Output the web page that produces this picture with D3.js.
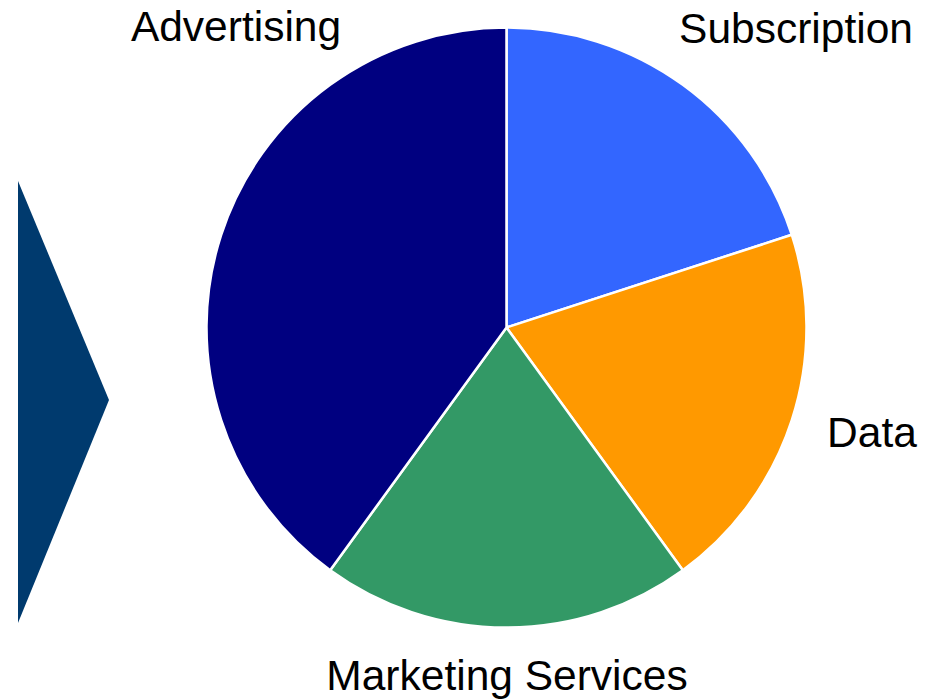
<!DOCTYPE html>
<html>
<head>
<meta charset="utf-8">
<script src="https://cdn.jsdelivr.net/npm/d3@7"></script>
<style>
  html, body { margin: 0; padding: 0; background: #fff; }
  svg { display: block; }
  text { font-family: "Liberation Sans", Arial, sans-serif; font-size: 42.5px; fill: #000; }
</style>
</head>
<body>
<svg id="chart" width="928" height="699"></svg>
<script>
// Revenue mix, clockwise from 12 o'clock
const categories = ["Subscription", "Data", "Marketing Services", "Advertising"];
const shares = [20, 20, 20, 40];
const colors = ["#3366FF", "#FF9900", "#339966", "#000080"];

const width = 928, height = 699;
const cx = 506.5, cy = 327.5, radius = 300;

const svg = d3.select("#chart");

// Chevron pointer on the left
svg.append("path")
  .attr("d", "M18,181 L109,400 L18,623 Z")
  .attr("fill", "#003A6E");

const pie = d3.pie().sort(null).value(d => d.value);
const arc = d3.arc().innerRadius(0).outerRadius(radius);

const data = categories.map((c, i) => ({ name: c, value: shares[i], color: colors[i] }));
const arcs = pie(data);

const g = svg.append("g").attr("transform", `translate(${cx},${cy})`);

g.selectAll("path.slice")
  .data(arcs)
  .join("path")
  .attr("class", "slice")
  .attr("d", arc)
  .attr("fill", d => d.data.color)
  .attr("stroke", "#fff")
  .attr("stroke-width", 2.5)
  .attr("stroke-linejoin", "round");

// Labels placed outside the pie
const labelPos = {
  "Subscription": [796, 43],
  "Data": [872, 447],
  "Marketing Services": [507, 690],
  "Advertising": [236, 41]
};

svg.selectAll("text.label")
  .data(arcs)
  .join("text")
  .attr("class", "label")
  .attr("x", d => labelPos[d.data.name][0])
  .attr("y", d => labelPos[d.data.name][1])
  .attr("text-anchor", "middle")
  .text(d => d.data.name);
</script>
</body>
</html>
